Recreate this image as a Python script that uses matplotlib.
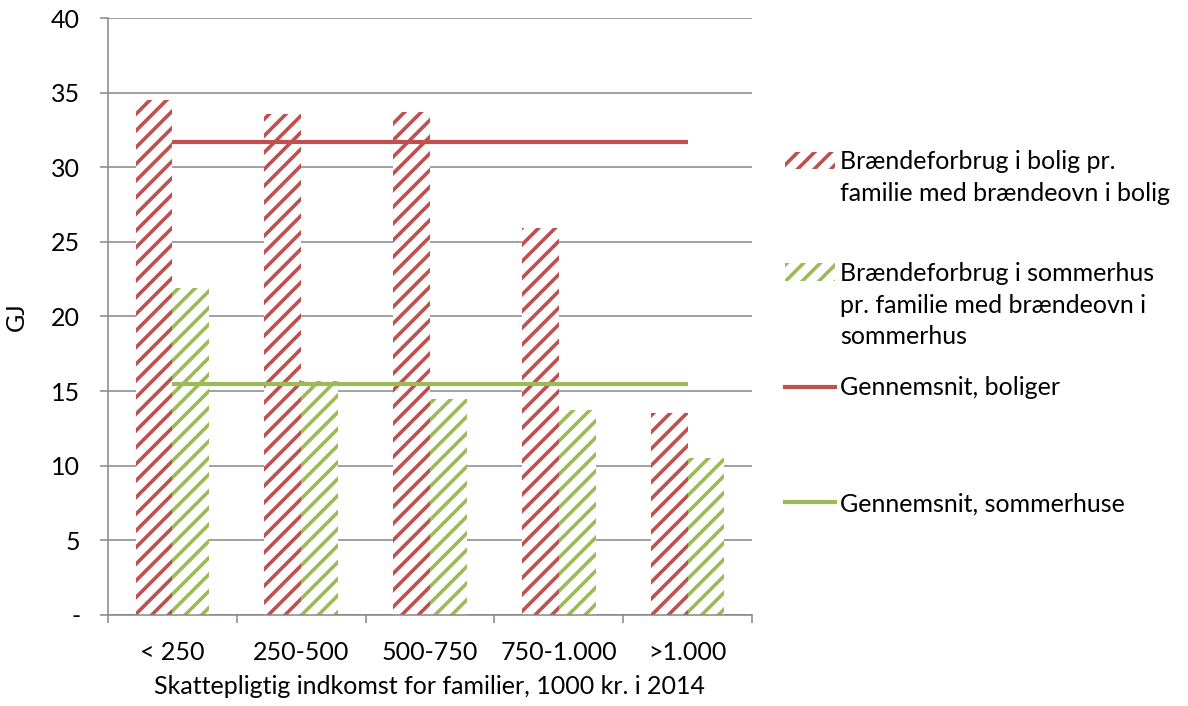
import matplotlib

matplotlib.use("Agg")

import matplotlib.pyplot as plt
import numpy as np
from matplotlib.lines import Line2D
from matplotlib.patches import Patch

categories = ["< 250", "250-500", "500-750", "750-1.000", ">1.000"]
bolig = [34.5, 33.6, 33.7, 25.9, 13.5]
sommerhus = [21.9, 15.7, 14.5, 13.7, 10.5]
avg_bolig = 31.7
avg_sommerhus = 15.5
y_ticks = [0, 5, 10, 15, 20, 25, 30, 35, 40]
y_tick_labels = ["-", "5", "10", "15", "20", "25", "30", "35", "40"]

RED = "#C0504D"
GREEN = "#9BBB59"
GRID = "#868686"
FS = 18

plt.rcParams["font.family"] = ["Lato", "DejaVu Sans"]
plt.rcParams["hatch.linewidth"] = 2.6

fig = plt.figure(figsize=(11.88, 7.06), dpi=100)
ax = fig.add_axes([0.0909, 0.129, 0.5421, 0.8455])

x = np.arange(len(categories))
width = 0.285
ax.bar(x - width / 2, bolig, width, facecolor="white", edgecolor=RED,
       hatch="//", linewidth=0, zorder=2)
ax.bar(x + width / 2, sommerhus, width, facecolor="white", edgecolor=GREEN,
       hatch="//", linewidth=0, zorder=2)
ax.plot([x[0], x[-1]], [avg_bolig, avg_bolig], color=RED, lw=3, zorder=3,
        solid_capstyle="butt")
ax.plot([x[0], x[-1]], [avg_sommerhus, avg_sommerhus], color=GREEN, lw=3,
        zorder=3, solid_capstyle="butt")

ax.set_xlim(-0.5, len(categories) - 0.5)
ax.set_ylim(0, 40)
ax.set_yticks(y_ticks)
ax.set_yticklabels(y_tick_labels, fontsize=FS)
ax.yaxis.grid(True, color=GRID, lw=1.1, zorder=0)
ax.set_axisbelow(True)
ax.tick_params(axis="y", direction="out", length=6, width=1.1, color=GRID,
               pad=14)

ax.set_xticks(x)
ax.set_xticklabels(categories, fontsize=FS)
ax.set_xticks(np.arange(-0.5, len(categories)), minor=True)
ax.tick_params(axis="x", which="major", length=0, pad=19)
ax.tick_params(axis="x", which="minor", direction="out", length=6, width=1.1,
               color=GRID)

for side in ["top", "right"]:
    ax.spines[side].set_visible(False)
for side in ["left", "bottom"]:
    ax.spines[side].set_color(GRID)
    ax.spines[side].set_linewidth(1.1)

ax.set_xlabel("Skattepligtig indkomst for familier, 1000 kr. i 2014",
              fontsize=FS, labelpad=8)
ax.set_ylabel("GJ", fontsize=FS)
ax.yaxis.set_label_coords(-0.124, 0.5)

blank = Line2D([], [], alpha=0)
legend_slots = [
    ([Patch(facecolor="white", edgecolor=RED, hatch="//", linewidth=0), blank],
     ["Brændeforbrug i bolig pr.", "familie med brændeovn i bolig"], 0.787),
    ([Patch(facecolor="white", edgecolor=GREEN, hatch="//", linewidth=0), blank, blank],
     ["Brændeforbrug i sommerhus", "pr. familie med brændeovn i", "sommerhus"], 0.629),
    ([Line2D([], [], color=RED, lw=3)], ["Gennemsnit, boliger"], 0.467),
    ([Line2D([], [], color=GREEN, lw=3)], ["Gennemsnit, sommerhuse"], 0.303),
]
for handles, labels, top in legend_slots:
    fig.legend(handles, labels, loc="upper left", bbox_to_anchor=(0.661, top),
               frameon=False, fontsize=FS, handlelength=2.0,
               handletextpad=0.2, labelspacing=0.35, borderpad=0,
               borderaxespad=0)

fig.savefig("out.png", dpi=100)
